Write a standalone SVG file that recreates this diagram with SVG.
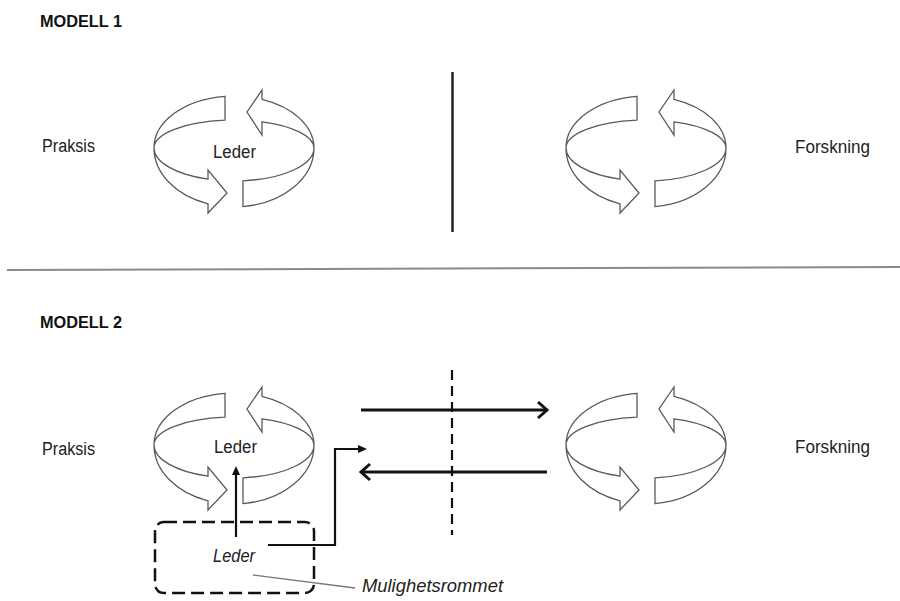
<svg xmlns="http://www.w3.org/2000/svg" xmlns:xlink="http://www.w3.org/1999/xlink" width="900" height="601" viewBox="0 0 900 601">
<style>
  .lbl { font-family: "Liberation Sans", Arial, sans-serif; font-size: 18px; fill: #222; }
  .title { font-family: "Liberation Sans", Arial, sans-serif; font-size: 16px; font-weight: bold; fill: #111; }
  .ital { font-family: "Liberation Sans", Arial, sans-serif; font-size: 18px; font-style: italic; fill: #222; }
  .cyc { fill: #fff; stroke: #5a5a5a; stroke-width: 1.3; stroke-linejoin: miter; }
  .conn { fill: none; stroke: #111; stroke-width: 3; }
  .thin { fill: none; stroke: #111; stroke-width: 2.2; }
  .head { fill: #111; stroke: none; }
</style>
<defs>
  <g id="cycle">
    <path class="cyc" d="M -9,-51.7 A 80 52 0 0 0 -80,0 A 80 59 0 0 0 -26,55.8 L -26,65 L -7,45 L -26,22 L -26,31.2 A 80 33 0 0 1 -80,0 A 80 28 0 0 1 -9,-27.8 Z"/>
    <path class="cyc" d="M 9,32.8 L 9,58.6 A 80 59 0 0 0 80,0 A 80 52 0 0 0 28,-48.7 L 28,-58 L 13,-36 L 28,-13 L 28,-26.2 A 80 28 0 0 1 80,0 A 80 33 0 0 1 9,32.8 Z"/>
  </g>
</defs>
<rect width="900" height="601" fill="#fff"/>

<g id="modell1">
  <text class="title" x="40" y="27" textLength="82" lengthAdjust="spacingAndGlyphs">MODELL 1</text>
  <g id="praksis1"><text class="lbl" x="42" y="152" textLength="53" lengthAdjust="spacingAndGlyphs">Praksis</text></g>
  <g id="cycle1-left"><use xlink:href="#cycle" href="#cycle" transform="translate(234,148)"/>
    <text class="lbl" x="213" y="158" textLength="43" lengthAdjust="spacingAndGlyphs">Leder</text></g>
  <g id="divider1"><line x1="452.5" y1="72" x2="452.5" y2="232" stroke="#222" stroke-width="2.5"/></g>
  <g id="cycle1-right"><use xlink:href="#cycle" href="#cycle" transform="translate(646,148)"/></g>
  <g id="forskning1"><text class="lbl" x="795" y="153" textLength="75" lengthAdjust="spacingAndGlyphs">Forskning</text></g>
</g>

<g id="separator"><line x1="7" y1="270" x2="900" y2="267" stroke="#8a8a8a" stroke-width="2"/></g>

<g id="modell2">
  <text class="title" x="40" y="328" textLength="82" lengthAdjust="spacingAndGlyphs">MODELL 2</text>
  <g id="praksis2"><text class="lbl" x="42" y="455" textLength="53" lengthAdjust="spacingAndGlyphs">Praksis</text></g>
  <g id="cycle2-left"><use xlink:href="#cycle" href="#cycle" transform="translate(234,445)"/>
    <text class="lbl" x="214" y="453" textLength="43" lengthAdjust="spacingAndGlyphs">Leder</text></g>
  <g id="cycle2-right"><use xlink:href="#cycle" href="#cycle" transform="translate(646,445)"/></g>
  <g id="forskning2"><text class="lbl" x="795" y="453" textLength="75" lengthAdjust="spacingAndGlyphs">Forskning</text></g>
  <g id="divider2"><line x1="452" y1="370" x2="452" y2="535" stroke="#111" stroke-width="2.2" stroke-dasharray="10,6"/></g>
  <g id="mulighetsrommet">
    <rect x="155" y="522" width="159" height="71" rx="9" ry="9" fill="none" stroke="#111" stroke-width="2.5" stroke-dasharray="13,6"/>
    <text class="ital" x="213" y="562" textLength="42" lengthAdjust="spacingAndGlyphs">Leder</text>
    <line x1="253" y1="575" x2="355" y2="588" stroke="#777" stroke-width="1.3"/>
    <text class="ital" x="362" y="592" textLength="141" lengthAdjust="spacingAndGlyphs">Mulighetsrommet</text>
  </g>
</g>

<g id="connectors">
  <line class="conn" x1="361" y1="410" x2="547" y2="410"/>
  <path class="conn" d="M538,402 L547,410 L538,418"/>
  <line class="conn" x1="547" y1="472" x2="361" y2="472"/>
  <path class="conn" d="M370,464 L361,472 L370,480"/>
  <line class="thin" x1="236" y1="537" x2="236" y2="473"/>
  <path class="head" d="M236,466 L232,475 L240,475 Z"/>
  <path class="thin" d="M268,545 H335 V449 H359"/>
  <path class="head" d="M367,449 L358,445 L358,453 Z"/>
</g>
</svg>
